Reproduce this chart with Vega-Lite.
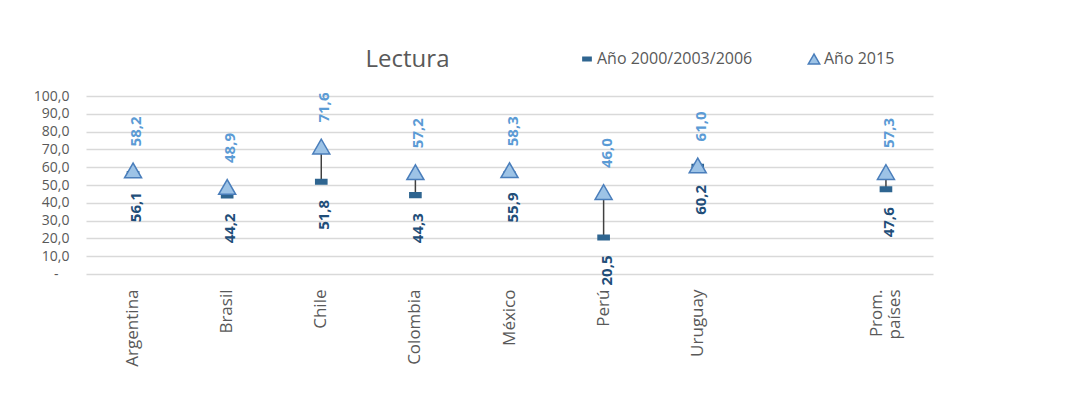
{
  "$schema": "https://vega.github.io/schema/vega-lite/v6.json",
  "width": 847,
  "height": 178,
  "autosize": {"type": "none"},
  "padding": {"left": 86, "top": 96, "right": 132, "bottom": 128},
  "background": "white",
  "config": {
    "locale": {"number": {"decimal": ",", "thousands": ".", "grouping": [3], "currency": ["", " €"]}},
    "view": {"stroke": null},
    "font": "Open Sans",
    "axisY": {
      "title": null, "labelFontSize": 14, "labelColor": "#595959", "labelFont": "Open Sans",
      "ticks": false, "domain": false, "gridColor": "#d9d9d9", "gridWidth": 1.5, "labelOverlap": false
    }
  },
  "title": {"text": "Lectura", "fontSize": 24, "font": "Open Sans", "fontWeight": "normal", "color": "#595959", "anchor": "middle", "dx": -102, "offset": 0, "dy": 21},
  "data": {"values": [
    {"pais": "Argentina", "Año 2000/2003/2006": 56.1, "Año 2015": 58.2},
    {"pais": "Brasil", "Año 2000/2003/2006": 44.2, "Año 2015": 48.9},
    {"pais": "Chile", "Año 2000/2003/2006": 51.8, "Año 2015": 71.6},
    {"pais": "Colombia", "Año 2000/2003/2006": 44.3, "Año 2015": 57.2},
    {"pais": "México", "Año 2000/2003/2006": 55.9, "Año 2015": 58.3},
    {"pais": "Perú", "Año 2000/2003/2006": 20.5, "Año 2015": 46.0},
    {"pais": "Uruguay", "Año 2000/2003/2006": 60.2, "Año 2015": 61.0},
    {"pais": "Prom. países", "Año 2000/2003/2006": 47.6, "Año 2015": 57.3}
  ]},
  "encoding": {
    "x": {
      "field": "pais", "type": "nominal",
      "scale": {"domain": ["Argentina", "Brasil", "Chile", "Colombia", "México", "Perú", "Uruguay", " ", "Prom. países"]},
      "axis": {
        "title": null, "labelAngle": -90, "labelFontSize": 17, "labelColor": "#595959", "labelFont": "Open Sans",
        "labelPadding": 15, "ticks": false, "domain": false, "grid": false,
        "labelExpr": "datum.label == 'Prom. países' ? ['Prom.', 'países'] : datum.label",
        "labelOffset": {"condition": {"test": "datum.value == 'Prom. países'", "value": -9}, "value": 0},
        "labelLineHeight": 18
      }
    }
  },
  "layer": [
    {
      "mark": {"type": "rule", "color": "#404040", "strokeWidth": 1.5},
      "encoding": {
        "y": {
          "field": "Año 2000/2003/2006", "type": "quantitative",
          "scale": {"domain": [0, 100], "nice": false},
          "axis": {
            "values": [0, 10, 20, 30, 40, 50, 60, 70, 80, 90, 100], "format": ".1f",
            "labelExpr": "datum.value == 0 ? '-' : datum.label",
            "labelPadding": {"condition": {"test": "datum.value == 0", "value": 28}, "value": 17}
          }
        },
        "y2": {"field": "Año 2015"}
      }
    },
    {
      "transform": [
        {"fold": ["Año 2000/2003/2006", "Año 2015"], "as": ["serie", "valor"]},
        {"filter": "datum.serie == 'Año 2000/2003/2006'"}
      ],
      "mark": {"type": "point", "filled": true, "opacity": 1, "strokeWidth": 1.5, "size": 240},
      "encoding": {
        "y": {
          "field": "valor", "type": "quantitative",
          "axis": {
            "values": [0, 10, 20, 30, 40, 50, 60, 70, 80, 90, 100], "format": ".1f",
            "labelExpr": "datum.value == 0 ? '-' : datum.label",
            "labelPadding": {"condition": {"test": "datum.value == 0", "value": 28}, "value": 17}
          }
        },
        "shape": {
          "field": "serie", "type": "nominal",
          "scale": {"domain": ["Año 2000/2003/2006", "Año 2015"], "range": ["M-0.72,-0.3H0.72V0.3H-0.72Z", "triangle-up"]},
          "legend": {
            "orient": "none", "legendX": 493, "legendY": -45, "direction": "horizontal", "title": null,
            "labelFontSize": 16, "labelFont": "Open Sans", "labelColor": "#595959", "columnPadding": 52,
            "labelOffset": 2, "padding": 0, "symbolStrokeWidth": 1.5, "symbolSize": 130
          }
        },
        "fill": {
          "field": "serie", "type": "nominal",
          "scale": {"domain": ["Año 2000/2003/2006", "Año 2015"], "range": ["#2f6590", "#9dc3e6"]}
        },
        "stroke": {
          "field": "serie", "type": "nominal",
          "scale": {"domain": ["Año 2000/2003/2006", "Año 2015"], "range": ["#2f6590", "#4a7ebb"]}
        }
      }
    },
    {
      "transform": [
        {"fold": ["Año 2000/2003/2006", "Año 2015"], "as": ["serie", "valor"]},
        {"filter": "datum.serie == 'Año 2015'"}
      ],
      "mark": {"type": "point", "filled": true, "opacity": 1, "strokeWidth": 1.5, "size": 290},
      "encoding": {
        "y": {
          "field": "valor", "type": "quantitative",
          "axis": {
            "values": [0, 10, 20, 30, 40, 50, 60, 70, 80, 90, 100], "format": ".1f",
            "labelExpr": "datum.value == 0 ? '-' : datum.label",
            "labelPadding": {"condition": {"test": "datum.value == 0", "value": 28}, "value": 17}
          }
        },
        "shape": {"field": "serie", "type": "nominal"},
        "fill": {"field": "serie", "type": "nominal"},
        "stroke": {"field": "serie", "type": "nominal"}
      }
    },
    {
      "mark": {"type": "text", "angle": 270, "align": "left", "baseline": "middle", "dx": 24, "dy": 3, "fontWeight": "bold", "fontSize": 15, "color": "#5b9bd5", "font": "Open Sans"},
      "encoding": {
        "y": {
          "field": "Año 2015", "type": "quantitative",
          "axis": {
            "values": [0, 10, 20, 30, 40, 50, 60, 70, 80, 90, 100], "format": ".1f",
            "labelExpr": "datum.value == 0 ? '-' : datum.label",
            "labelPadding": {"condition": {"test": "datum.value == 0", "value": 28}, "value": 17}
          }
        },
        "text": {"field": "Año 2015", "type": "quantitative", "format": ".1f"}
      }
    },
    {
      "mark": {"type": "text", "angle": 270, "align": "right", "baseline": "middle", "dx": -18, "dy": 3, "fontWeight": "bold", "fontSize": 15, "color": "#1f4e79", "font": "Open Sans"},
      "encoding": {
        "y": {
          "field": "Año 2000/2003/2006", "type": "quantitative",
          "axis": {
            "values": [0, 10, 20, 30, 40, 50, 60, 70, 80, 90, 100], "format": ".1f",
            "labelExpr": "datum.value == 0 ? '-' : datum.label",
            "labelPadding": {"condition": {"test": "datum.value == 0", "value": 28}, "value": 17}
          }
        },
        "text": {"field": "Año 2000/2003/2006", "type": "quantitative", "format": ".1f"}
      }
    }
  ]
}
